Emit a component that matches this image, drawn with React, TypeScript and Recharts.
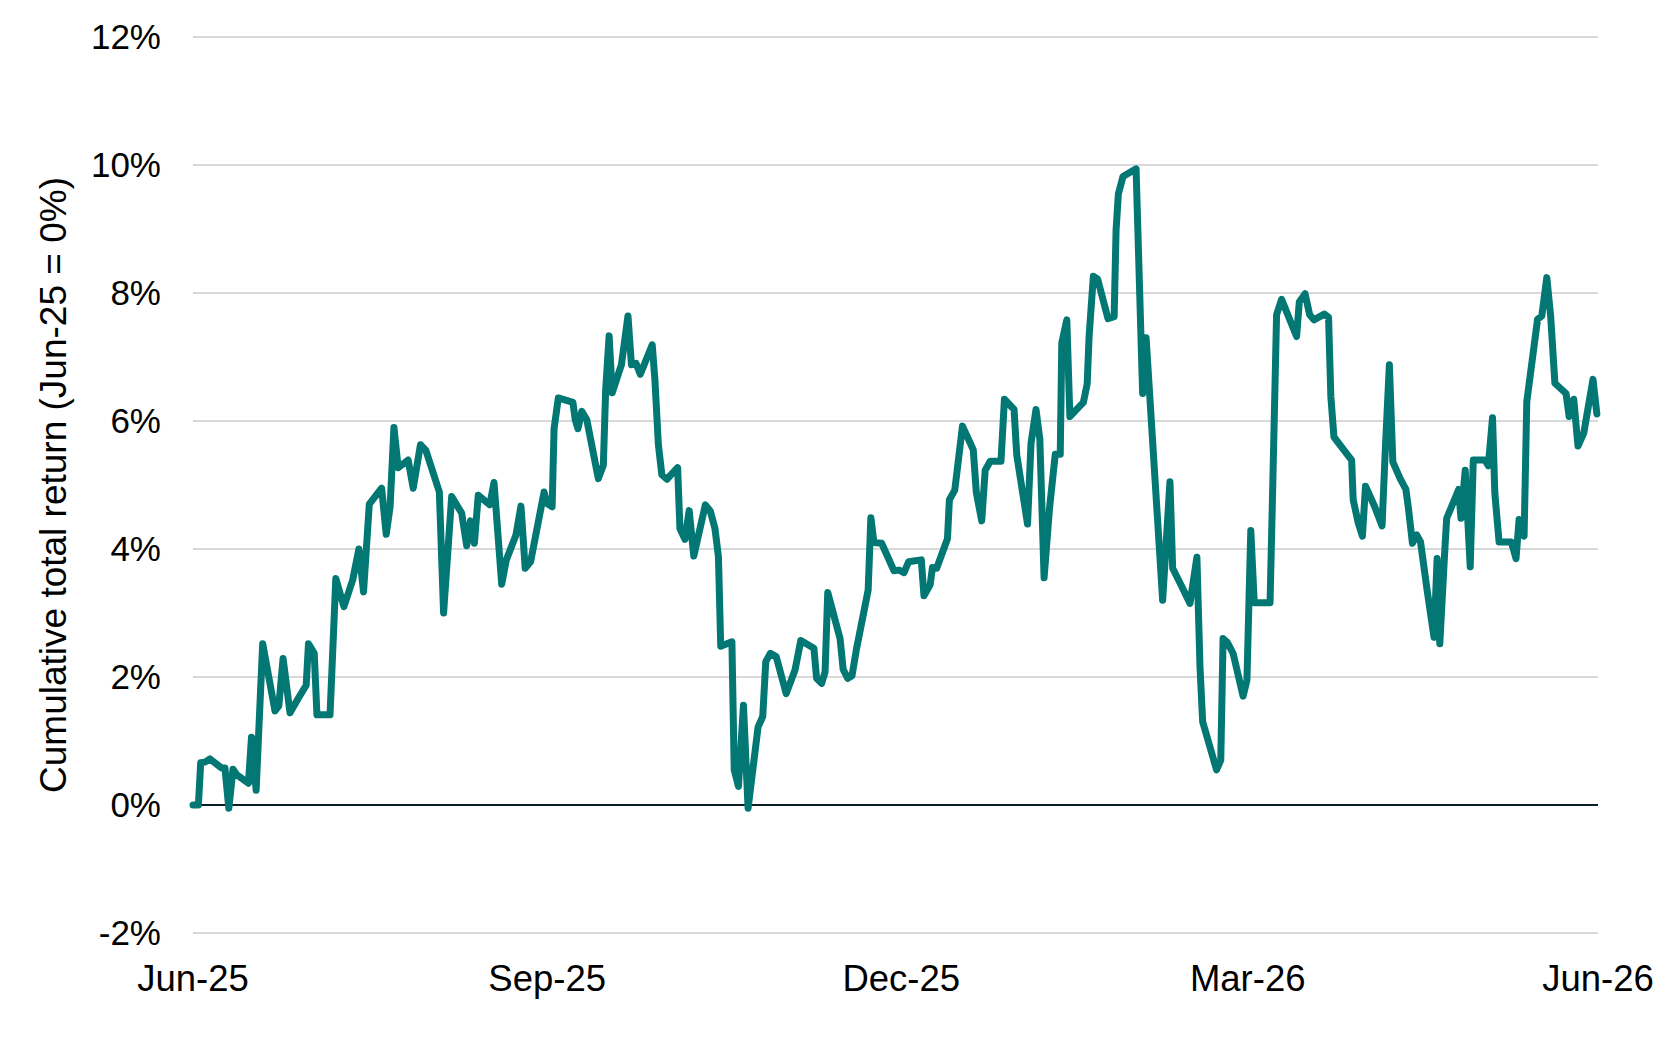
import { LineChart, Line, XAxis, YAxis, CartesianGrid, ReferenceLine } from "recharts";

// day offset from 1 Jun 2025
const DAYS = [
  0, 1.4, 2.0, 3.1, 4.4, 7.4, 8.3, 9.3, 10.4, 11.4,
  14.4, 15.2, 16.4, 18.1, 21.3, 22.3, 23.4, 25.2, 27.4, 29.4,
  30.0, 31.5, 32.2, 35.6, 37.1, 39.2, 41.5, 43.1, 44.3, 45.8,
  49.0, 50.2, 51.2, 52.2, 53.3, 55.9, 57.2, 59.1, 60.5, 64.0,
  65.1, 67.2, 69.8, 71.1, 72.1, 73.1, 74.1, 77.1, 78.2, 80.2,
  81.4, 83.9, 85.2, 86.3, 87.7, 91.2, 92.0, 93.3, 93.8, 94.9,
  98.7, 99.3, 100.0, 101.0, 102.3, 105.3, 106.6, 107.2, 108.1, 108.9,
  111.3, 113.0, 113.9, 115.1, 116.2, 119.3, 120.0, 120.9, 121.8, 123.1,
  125.9, 126.5, 127.8, 128.9, 130.1, 133.1, 134.4, 135.6, 136.5, 137.1,
  140.0, 140.6, 141.7, 143.0, 144.2, 146.8, 148.0, 148.8, 150.0, 151.5,
  154.1, 156.4, 157.9, 161.3, 162.0, 163.3, 164.2, 164.9, 168.1, 168.9,
  170.1, 171.2, 172.4, 175.4, 176.1, 176.9, 178.9, 182.1, 183.4, 184.7,
  185.9, 189.2, 189.9, 191.5, 192.1, 193.2, 196.0, 196.5, 197.9, 199.9,
  202.7, 203.5, 204.9, 205.8, 207.1, 209.9, 210.8, 213.3, 214.0, 216.8,
  217.7, 219.0, 220.0, 221.1, 222.5, 224.0, 225.3, 225.7, 227.0, 227.8,
  231.3, 232.3, 232.8, 233.9, 235.0, 237.7, 239.3, 239.8, 240.4, 241.6,
  245.0, 246.7, 247.6, 251.9, 253.8, 254.5, 256.9, 259.0, 260.8, 261.6,
  262.3, 265.9, 267.0, 267.6, 268.7, 270.2, 272.8, 273.8, 274.8, 275.7,
  279.8, 280.5, 281.5, 282.8, 286.7, 287.4, 288.9, 290.1, 291.2, 293.9,
  295.0, 295.6, 296.4, 298.7, 301.0, 301.4, 302.7, 303.8, 304.6, 307.0,
  308.9, 309.7, 310.8, 311.7, 313.6, 315.1, 315.7, 316.8, 317.9, 318.9,
  320.6, 322.4, 323.2, 323.9, 325.3, 325.7, 328.8, 329.4, 330.5, 331.8,
  332.6, 335.6, 336.5, 337.6, 338.2, 339.3, 342.5, 343.7, 344.5, 345.8,
  346.5, 349.3, 350.4, 351.7, 352.7, 353.8, 356.7, 357.5, 358.7, 359.8,
  361.3, 363.7, 364.7,
];

// cumulative total return, %
const RETURNS = [
  0.0, 0.0, 0.66, 0.67, 0.72, 0.58, 0.58, -0.05, 0.56, 0.47,
  0.34, 1.06, 0.23, 2.52, 1.47, 1.55, 2.29, 1.44, 1.67, 1.87,
  2.52, 2.37, 1.41, 1.41, 3.54, 3.1, 3.52, 4.0, 3.33, 4.7,
  4.95, 4.23, 4.66, 5.9, 5.27, 5.39, 4.95, 5.63, 5.54, 4.89,
  3.0, 4.82, 4.56, 4.05, 4.44, 4.09, 4.84, 4.69, 5.04, 3.45,
  3.83, 4.22, 4.67, 3.7, 3.8, 4.89, 4.71, 4.66, 5.88, 6.36,
  6.29, 6.02, 5.88, 6.15, 6.02, 5.1, 5.31, 6.48, 7.33, 6.44,
  6.88, 7.64, 6.88, 6.9, 6.73, 7.19, 6.64, 5.63, 5.16, 5.09,
  5.27, 4.32, 4.15, 4.6, 3.89, 4.69, 4.59, 4.32, 3.88, 2.48,
  2.55, 0.55, 0.29, 1.56, -0.05, 1.22, 1.38, 2.24, 2.37, 2.32,
  1.74, 2.11, 2.57, 2.45, 1.98, 1.9, 2.08, 3.32, 2.6, 2.12,
  1.98, 2.02, 2.45, 3.36, 4.49, 4.1, 4.09, 3.66, 3.67, 3.63,
  3.8, 3.83, 3.27, 3.44, 3.71, 3.7, 4.16, 4.77, 4.92, 5.92,
  5.55, 4.88, 4.44, 5.23, 5.37, 5.37, 6.34, 6.18, 5.47, 4.39,
  5.65, 6.18, 5.71, 3.55, 4.63, 5.48, 5.48, 7.22, 7.58, 6.07,
  6.29, 6.58, 7.33, 8.26, 8.22, 7.6, 7.63, 8.98, 9.55, 9.82,
  9.94, 6.43, 7.3, 3.2, 5.05, 3.7, 3.41, 3.15, 3.87, 2.16,
  1.3, 0.55, 0.7, 2.6, 2.54, 2.37, 1.7, 1.95, 4.29, 3.16,
  3.16, 4.97, 7.66, 7.9, 7.32, 7.86, 7.99, 7.66, 7.58, 7.67,
  7.62, 6.38, 5.75, 5.57, 5.39, 4.77, 4.41, 4.2, 4.98, 4.66,
  4.36, 5.49, 6.88, 5.36, 5.1, 4.93, 4.66, 4.09, 4.22, 4.11,
  3.36, 2.62, 3.85, 2.52, 4.09, 4.48, 4.93, 4.48, 5.23, 3.72,
  5.39, 5.39, 5.3, 6.05, 4.87, 4.11, 4.11, 3.85, 4.46, 4.2,
  6.3, 7.59, 7.64, 8.24, 7.64, 6.59, 6.43, 6.07, 6.34, 5.61,
  5.81, 6.65, 6.11,
];

const X_TICKS = [0, 92, 184, 274, 365];
const X_LABELS = ["Jun-25", "Sep-25", "Dec-25", "Mar-26", "Jun-26"];
const Y_TICKS = [-2, 0, 2, 4, 6, 8, 10, 12];
const Y_TITLE = "Cumulative total return (Jun-25 = 0%)";

const data = DAYS.map((day, i) => ({ day, ret: RETURNS[i] }));

const FONT = "'Liberation Sans', Arial, Helvetica, sans-serif";
const TEAL = "#037773";

function YTitle({ viewBox }: any) {
  const x = viewBox.x + 45;
  const y = viewBox.y + viewBox.height / 2;
  return (
    <text
      x={x}
      y={y}
      transform={`rotate(-90 ${x} ${y})`}
      textAnchor="middle"
      dominantBaseline="central"
      fontSize={37}
      fontFamily={FONT}
      fill="#000"
    >
      {Y_TITLE}
    </text>
  );
}

export default function App() {
  return (
    <div style={{ fontFamily: FONT }}>
      <LineChart
        width={1657}
        height={1022}
        data={data}
        margin={{ top: 29, right: 67, bottom: 0, left: 0 }}
      >
        <CartesianGrid vertical={false} stroke="#d9d9d9" strokeWidth={2} />
        <XAxis
          dataKey="day"
          type="number"
          domain={[0, 365]}
          ticks={X_TICKS}
          interval={0}
          tickFormatter={(v: number) => X_LABELS[X_TICKS.indexOf(v)] ?? ""}
          axisLine={false}
          tickLine={false}
          tickSize={30}
          tickMargin={2}
          height={97}
          tick={{ fill: "#000", fontSize: 36.5, fontFamily: FONT }}
        />
        <YAxis
          type="number"
          domain={[-2, 12]}
          ticks={Y_TICKS}
          interval={0}
          tickFormatter={(v: number) => `${v}%`}
          axisLine={false}
          tickLine={false}
          tickSize={30}
          tickMargin={2}
          width={185}
          tick={{ fill: "#000", fontSize: 35, fontFamily: FONT }}
          label={<YTitle />}
        />
        <ReferenceLine y={0} stroke="#0b1d26" strokeWidth={2} />
        <Line
          type="linear"
          dataKey="ret"
          stroke={TEAL}
          strokeWidth={7}
          strokeLinejoin="round"
          strokeLinecap="round"
          dot={false}
          activeDot={false}
          isAnimationActive={false}
        />
      </LineChart>
    </div>
  );
}
